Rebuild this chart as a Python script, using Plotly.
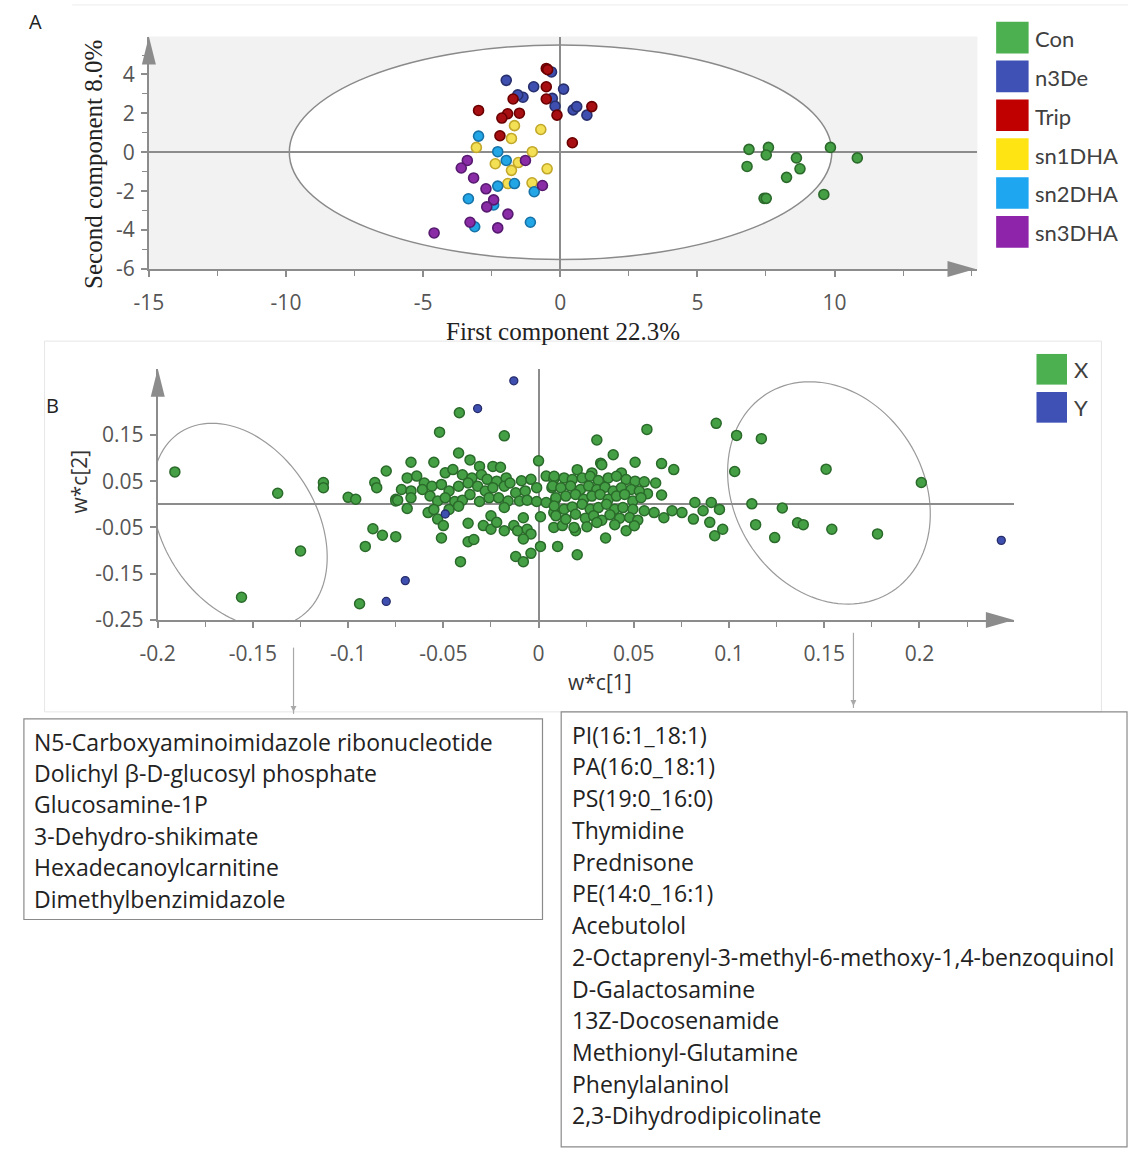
import numpy as np
import plotly.graph_objects as go

W, H = 1128, 1151

# ---------------- Panel A data (PLS-DA scores) ----------------
groups = ["Con", "n3De", "Trip", "sn1DHA", "sn2DHA", "sn3DHA"]
legend_colors = ["#4caf50", "#3f51b5", "#c00000", "#ffe414", "#1ea6f0", "#8e24aa"]
fill_colors = ["#45a045", "#3f4fb0", "#a80f12", "#f4e055", "#22a6e6", "#8a2ca6"]
edge_colors = ["#2c6a2c", "#28306e", "#6a0000", "#c2a82a", "#1773a8", "#571a70"]

con_x = [6.88, 7.59, 7.51, 6.81, 8.61, 8.74, 8.25, 9.85, 10.83, 9.61, 7.43, 7.51]
con_y = [0.15, 0.25, -0.14, -0.73, -0.29, -0.85, -1.29, 0.25, -0.29, -2.17, -2.37, -2.37]
n3de_x = [-1.97, -0.97, 0.12, -1.36, -0.32, -0.29, -0.19, 0.47, 0.60, 0.97, -1.55]
n3de_y = [3.70, 3.37, 3.25, 2.83, 4.13, 2.77, 2.37, 2.18, 2.35, 1.91, 2.95]
trip_x = [-0.51, -0.46, -0.51, -0.51, -0.12, 1.15, 0.44, -2.98, -1.72, -1.92, -2.13, -1.49, -2.20]
trip_y = [4.31, 4.25, 3.37, 2.74, 1.91, 2.35, 0.49, 2.15, 2.74, 1.98, 1.76, 2.01, 0.85]
sn1_x = [-1.67, -0.71, -1.78, -3.06, -1.02, -2.37, -1.78, -1.53, -0.48, -1.91, -1.03]
sn1_y = [1.37, 1.17, 0.71, 0.25, 0.03, -0.59, -0.93, -0.53, -0.85, -1.61, -1.57]
sn2_x = [-2.98, -2.28, -1.97, -2.28, -1.67, -0.95, -3.35, -3.12, -1.09, -2.43]
sn2_y = [0.83, 0.03, -0.42, -1.74, -1.61, -2.03, -2.39, -3.83, -3.60, -2.71]
sn3_x = [-3.39, -3.61, -3.16, -1.27, -2.71, -0.65, -2.43, -2.68, -1.91, -3.29, -2.28, -4.60]
sn3_y = [-0.42, -0.81, -1.32, -0.42, -1.88, -1.71, -2.45, -2.81, -3.18, -3.60, -3.89, -4.15]
groups_x = [con_x, n3de_x, trip_x, sn1_x, sn2_x, sn3_x]
groups_y = [con_y, n3de_y, trip_y, sn1_y, sn2_y, sn3_y]

a_xticks = [-15, -10, -5, 0, 5, 10]
a_xlabels = ["-15", "-10", "-5", "0", "5", "10"]
a_yticks = [4, 2, 0, -2, -4, -6]
a_ylabels = ["4", "2", "0", "-2", "-4", "-6"]
a_xtitle = "First component 22.3%"
a_ytitle = "Second component 8.0%"

# ---------------- Panel B data (loadings) ----------------
x_load_x = [
    # left outliers
    -0.191, -0.137, -0.125, -0.156, -0.113, -0.113, -0.100, -0.096, -0.094, -0.091,
    -0.087, -0.082, -0.086, -0.085, -0.080, -0.075,
    # sparse around the cluster (left)
    -0.0416, -0.052, -0.018, -0.042, -0.067, -0.055, 0.000, -0.075, -0.069, -0.075,
    -0.051, -0.037, -0.037, -0.034, -0.041, -0.012, -0.008, -0.004, 0.001,
    # cluster left half
    -0.036, -0.031, -0.024, -0.020,
    -0.069, -0.064, -0.060, -0.049, -0.045, -0.040, -0.035, -0.030, -0.027, -0.022,
    -0.017, -0.009, -0.004, 0.004, 0.008,
    -0.072, -0.067, -0.061, -0.056, -0.051, -0.047, -0.042, -0.037, -0.032, -0.028,
    -0.024, -0.018, -0.015, -0.012, -0.007, -0.001, 0.007,
    -0.074, -0.067, -0.057, -0.053, -0.049, -0.044, -0.040, -0.036, -0.031, -0.026,
    -0.021, -0.016, -0.010, -0.006, -0.001, 0.004, 0.009,
    -0.058, -0.055, -0.047, -0.042, -0.025, -0.018, -0.008, 0.001, 0.008,
    -0.053, -0.050, -0.029, -0.025, -0.022, -0.018, -0.013, -0.011, -0.006, -0.004,
    -0.008, 0.008,
    # sparse around the cluster (right)
    0.0569, 0.0933, 0.0306, 0.0392, 0.0507, 0.0646, 0.0710, 0.0326, 0.0615, 0.0646,
    0.0572, 0.0821, 0.0907, 0.0950, 0.0967, 0.0925, 0.0899, 0.0864, 0.0813, 0.0753,
    0.0701, 0.0658, 0.0607, 0.0555, 0.0460, 0.0352, 0.0203, 0.0100, 0.0194, 0.0125,
    # cluster right half
    0.0203, 0.0280, 0.0435, 0.0332,
    0.0082, 0.0134, 0.0177, 0.0229, 0.0271, 0.0314, 0.0366, 0.0409, 0.0460, 0.0507, 0.0555,
    0.0074, 0.0117, 0.0168, 0.0220, 0.0263, 0.0306, 0.0349, 0.0392, 0.0435, 0.0486, 0.0529,
    0.0091, 0.0143, 0.0194, 0.0237, 0.0280, 0.0323, 0.0366, 0.0409, 0.0452, 0.0495, 0.0538,
    0.0082, 0.0134, 0.0177, 0.0229, 0.0271, 0.0314, 0.0357, 0.0400, 0.0443, 0.0495,
    0.0091, 0.0143, 0.0194, 0.0246, 0.0289, 0.0332, 0.0375, 0.0426, 0.0478, 0.0521,
    0.0186, 0.0254, 0.0306, 0.0400, 0.0503,
    # right outliers
    0.103, 0.104, 0.117, 0.151, 0.201, 0.112, 0.128, 0.114, 0.136, 0.139, 0.124, 0.154, 0.178,
]
x_load_y = [
    0.070, 0.024, -0.101, -0.201, 0.047, 0.036, 0.015, 0.011, -0.215, -0.091,
    -0.053, -0.067, 0.047, 0.036, 0.072, 0.011,
    0.198, 0.156, 0.148, 0.111, 0.091, 0.091, 0.094, 0.007, -0.009, -0.070,
    -0.073, -0.041, -0.081, -0.076, -0.124, -0.113, -0.124, -0.106, -0.091,
    0.096, 0.082, 0.082, 0.080,
    0.057, 0.061, 0.046, 0.068, 0.075, 0.064, 0.057, 0.064, 0.054, 0.050,
    0.057, 0.051, 0.054, 0.061, 0.054,
    0.032, 0.029, 0.032, 0.039, 0.043, 0.029, 0.039, 0.046, 0.039, 0.029,
    0.036, 0.039, 0.046, 0.025, 0.029, 0.036, 0.036,
    0.009, 0.014, 0.018, 0.007, 0.014, 0.006, 0.009, 0.021, 0.006, 0.014,
    0.014, 0.007, 0.007, 0.009, 0.006, 0.004, 0.011,
    -0.018, -0.011, -0.011, -0.004, -0.025, -0.007, -0.029, -0.027, -0.018,
    -0.032, -0.046, -0.046, -0.054, -0.039, -0.057, -0.046, -0.057, -0.054, -0.064,
    -0.075, -0.050,
    0.162, 0.175, 0.139, 0.107, 0.091, 0.088, 0.075, 0.089, 0.046, 0.020,
    0.023, 0.004, 0.004, -0.011, -0.054, -0.068, -0.039, -0.014, -0.032, -0.018,
    -0.014, -0.029, -0.018, -0.014, -0.057, -0.073, -0.109, -0.091, -0.057, -0.046,
    0.0749, 0.0678, 0.0678, 0.0857,
    0.0607, 0.0571, 0.0535, 0.0571, 0.0607, 0.0514, 0.0571, 0.0607, 0.0535, 0.0500, 0.0485,
    0.0393, 0.0357, 0.0393, 0.0321, 0.0393, 0.0321, 0.0371, 0.0286, 0.0357, 0.0321, 0.0286,
    0.0143, 0.0178, 0.0214, 0.0107, 0.0178, 0.0214, 0.0107, 0.0178, 0.0214, 0.0071, 0.0143,
    -0.0036, -0.0107, -0.0057, 0.0000, -0.0107, -0.0071, 0.0000, -0.0107, -0.0071, -0.0107,
    -0.0250, -0.0321, -0.0214, -0.0300, -0.0250, -0.0343, -0.0228, -0.0300, -0.0285, -0.0343,
    -0.0500, -0.0485, -0.0393, -0.0443, -0.0464,
    0.071, 0.149, 0.142, 0.076, 0.047, 0.001, -0.008, -0.044, -0.040, -0.044, -0.072, -0.054, -0.064,
]
y_load_x = [-0.013, -0.032, -0.049, -0.070, -0.080, 0.243]
y_load_y = [0.267, 0.207, -0.021, -0.165, -0.210, -0.078]

b_xticks = [-0.2, -0.15, -0.1, -0.05, 0, 0.05, 0.1, 0.15, 0.2]
b_xlabels = ["-0.2", "-0.15", "-0.1", "-0.05", "0", "0.05", "0.1", "0.15", "0.2"]
b_yticks = [0.15, 0.05, -0.05, -0.15, -0.25]
b_ylabels = ["0.15", "0.05", "-0.05", "-0.15", "-0.25"]
b_legend = ["X", "Y"]
b_legend_colors = ["#4caf50", "#3f51b5"]

left_box_names = [
    "N5-Carboxyaminoimidazole ribonucleotide",
    "Dolichyl β-D-glucosyl phosphate",
    "Glucosamine-1P",
    "3-Dehydro-shikimate",
    "Hexadecanoylcarnitine",
    "Dimethylbenzimidazole",
]
right_box_names = [
    "PI(16:1_18:1)",
    "PA(16:0_18:1)",
    "PS(19:0_16:0)",
    "Thymidine",
    "Prednisone",
    "PE(14:0_16:1)",
    "Acebutolol",
    "2-Octaprenyl-3-methyl-6-methoxy-1,4-benzoquinol",
    "D-Galactosamine",
    "13Z-Docosenamide",
    "Methionyl-Glutamine",
    "Phenylalaninol",
    "2,3-Dihydrodipicolinate",
]

# ---------------- layout geometry (pixels) ----------------
def px(x):
    return x / W

def py(y):
    return 1 - y / H

A_X = (133, 975)
A_Y = (37, 272)
A_XR = [-15, 15.21]
A_YR = [-6, 5.95]
B_X = (142, 1012)
B_Y = (373, 627)
B_XR = [-0.2, 0.2496]
B_YR = [-0.25, 0.293]

AX_COL = "#8c8c8c"
TICK_COL = "#555555"
TICK_FONT = dict(family="Open Sans", size=21, color=TICK_COL)

fig = go.Figure()

for g, xs, ys, fc, ec in zip(groups, groups_x, groups_y, fill_colors, edge_colors):
    fig.add_trace(go.Scatter(
        x=xs, y=ys, mode="markers", name=g, xaxis="x", yaxis="y",
        marker=dict(size=10, color=fc, line=dict(color=ec, width=1.6)),
        showlegend=False,
    ))

fig.add_trace(go.Scatter(
    x=x_load_x, y=x_load_y, mode="markers", name="X", xaxis="x2", yaxis="y2",
    marker=dict(size=10, color="#45a045", line=dict(color="#2a6a2a", width=1.5)),
    showlegend=False,
))
fig.add_trace(go.Scatter(
    x=y_load_x, y=y_load_y, mode="markers", name="Y", xaxis="x2", yaxis="y2",
    marker=dict(size=8, color="#3f4fb0", line=dict(color="#262d6a", width=1.3)),
    showlegend=False,
))

axis_common = dict(showgrid=False, showline=True, linecolor=AX_COL, linewidth=2,
                   zeroline=True, zerolinecolor=AX_COL, zerolinewidth=1.5,
                   ticks="outside", tickcolor=AX_COL, tickwidth=1.5, ticklen=6,
                   mirror=False, fixedrange=True, tickfont=TICK_FONT)

fig.update_layout(
    width=W, height=H, autosize=False,
    margin=dict(l=0, r=0, t=0, b=0),
    paper_bgcolor="white", plot_bgcolor="rgba(0,0,0,0)",
    xaxis=dict(domain=[px(A_X[0]), px(A_X[1])], range=A_XR, anchor="y",
               tickvals=a_xticks, ticktext=a_xlabels, ticklabelstandoff=8,
               minor=dict(dtick=2.5, tick0=0, ticks="outside", ticklen=5, tickcolor=AX_COL, tickwidth=1.2),
               **axis_common),
    yaxis=dict(domain=[py(A_Y[1]), py(A_Y[0])], range=A_YR, anchor="x",
               tickvals=a_yticks, ticktext=a_ylabels, ticklabelstandoff=2,
               minor=dict(dtick=1, tick0=0, ticks="outside", ticklen=5, tickcolor=AX_COL, tickwidth=1.2),
               **axis_common),
    xaxis2=dict(domain=[px(B_X[0]), px(B_X[1])], range=B_XR, anchor="y2",
                tickvals=b_xticks, ticktext=b_xlabels, ticklabelstandoff=8,
                minor=dict(dtick=0.025, tick0=0, ticks="outside", ticklen=5, tickcolor=AX_COL, tickwidth=1.2),
                **axis_common),
    yaxis2=dict(domain=[py(B_Y[1]), py(B_Y[0])], range=B_YR, anchor="x2",
                tickvals=b_yticks, ticktext=b_ylabels, ticklabelstandoff=2,
                **axis_common),
)

shapes = []
# gray background of panel A
shapes.append(dict(type="rect", xref="x domain", yref="y domain", x0=0, x1=1, y0=0, y1=1,
                   fillcolor="#f2f2f2", line=dict(width=0), layer="below"))
# Hotelling ellipse A
shapes.append(dict(type="circle", xref="x", yref="y", x0=-9.88, x1=9.9, y0=-5.52, y1=5.52,
                   fillcolor="white", line=dict(color="#8a8a8a", width=1.5), layer="below"))

# rotated ellipses B (centre in data units, semi-axes in pixels, angle in screen degrees)
sx = (B_X[1] - B_X[0]) / (B_XR[1] - B_XR[0])
sy = (B_Y[1] - B_Y[0]) / (B_YR[1] - B_YR[0])
def ellipse_path(cx, cy, a, b, ang):
    t = np.linspace(0, 2 * np.pi, 121)
    phi = np.radians(ang)
    dx = a * np.cos(t) * np.cos(phi) - b * np.sin(t) * np.sin(phi)
    dy = a * np.cos(t) * np.sin(phi) + b * np.sin(t) * np.cos(phi)
    xs = cx + dx / sx
    ys = cy - dy / sy
    return "M " + " L ".join(f"{x:.5f},{y:.5f}" for x, y in zip(xs, ys)) + " Z"

for (cx, cy, a, b, ang) in [(-0.157, -0.045, 111.6, 78.0, 57.5), (0.1525, 0.0246, 118.5, 96.0, 57.5)]:
    shapes.append(dict(type="path", xref="x2", yref="y2", path=ellipse_path(cx, cy, a, b, ang),
                       line=dict(color="#9a9a9a", width=1.2), layer="below"))

# axis arrows (pixel-sized triangles anchored on the paper, so they are not clipped)
def up_arrow(xp, yp):
    return dict(type="path", xref="paper", yref="paper", xsizemode="pixel", ysizemode="pixel",
                xanchor=px(xp), yanchor=py(yp), path="M -7,-28 L 7,-28 L 0,0 Z",
                fillcolor=AX_COL, line=dict(width=0))

def right_arrow(xp, yp):
    return dict(type="path", xref="paper", yref="paper", xsizemode="pixel", ysizemode="pixel",
                xanchor=px(xp), yanchor=py(yp), path="M -28,-8 L -28,8 L 0,0 Z",
                fillcolor=AX_COL, line=dict(width=0))

shapes.append(up_arrow(A_X[0], A_Y[0]))
shapes.append(right_arrow(973, A_Y[1]))
shapes.append(up_arrow(B_X[0], B_Y[0]))
shapes.append(right_arrow(B_X[1], B_Y[1]))

# faint panel frames
shapes.append(dict(type="line", xref="paper", yref="paper", x0=px(55), x1=px(1128), y0=py(5), y1=py(5),
                   line=dict(color="#ececec", width=1)))
shapes.append(dict(type="rect", xref="paper", yref="paper", x0=px(27), x1=px(1101), y0=py(720), y1=py(345),
                   line=dict(color="#e6e6e6", width=1)))

# legend squares A
for i, c in enumerate(legend_colors):
    top = 22 + 39.3 * i
    shapes.append(dict(type="rect", xref="paper", yref="paper", x0=px(994), x1=px(1027),
                       y0=py(top + 32), y1=py(top), fillcolor=c, line=dict(width=0)))
# legend squares B
for i, c in enumerate(b_legend_colors):
    top = 358 + 38.5 * i
    shapes.append(dict(type="rect", xref="paper", yref="paper", x0=px(1035), x1=px(1066),
                       y0=py(top + 31), y1=py(top), fillcolor=c, line=dict(width=0)))

# connector lines with small arrowheads
for xc, ytop, ybot in [(280, 655, 722), (849, 640, 716)]:
    shapes.append(dict(type="line", xref="paper", yref="paper", x0=px(xc), x1=px(xc),
                       y0=py(ytop), y1=py(ybot), line=dict(color="#a8a8a8", width=1.2)))
    shapes.append(dict(type="path", xref="paper", yref="paper",
                       path=f"M {px(xc-3)},{py(ybot-8)} L {px(xc+3)},{py(ybot-8)} L {px(xc)},{py(ybot-2)} Z",
                       fillcolor="#a8a8a8", line=dict(width=0)))

# text boxes
shapes.append(dict(type="rect", xref="paper", yref="paper", x0=px(6), x1=px(533), y0=py(930), y1=py(727),
                   line=dict(color="#8a8a8a", width=1.2)))
shapes.append(dict(type="rect", xref="paper", yref="paper", x0=px(552), x1=px(1127), y0=py(1160), y1=py(720),
                   line=dict(color="#8a8a8a", width=1.2)))

fig.update_layout(shapes=shapes)

ann = []
TXT = "#333333"
ann.append(dict(text="A", x=px(18), y=py(22), xref="paper", yref="paper", showarrow=False,
                xanchor="center", yanchor="middle", font=dict(family="Open Sans", size=20, color="#222")))
ann.append(dict(text="B", x=px(35), y=py(410), xref="paper", yref="paper", showarrow=False,
                xanchor="center", yanchor="middle", font=dict(family="Open Sans", size=20, color="#222")))
ann.append(dict(text=a_xtitle, x=px(554), y=py(335), xref="paper", yref="paper", showarrow=False,
                xanchor="center", yanchor="middle", font=dict(family="Liberation Serif", size=25, color="#222")))
ann.append(dict(text=a_ytitle, x=px(76), y=py(166), xref="paper", yref="paper", showarrow=False, textangle=-90,
                xanchor="center", yanchor="middle", font=dict(family="Liberation Serif", size=25, color="#222")))
ann.append(dict(text="w*c[1]", x=px(591), y=py(690), xref="paper", yref="paper", showarrow=False,
                xanchor="center", yanchor="middle", font=dict(family="Open Sans", size=21, color=TXT)))
ann.append(dict(text="w*c[2]", x=px(62), y=py(487), xref="paper", yref="paper", showarrow=False, textangle=-90,
                xanchor="center", yanchor="middle", font=dict(family="Open Sans", size=21, color=TXT)))

for i, g in enumerate(groups):
    ann.append(dict(text=g, x=px(1031), y=py(22 + 39.3 * i + 17), xref="paper", yref="paper", showarrow=False,
                    xanchor="left", yanchor="middle", font=dict(family="Lato", size=22, color="#404040")))
for i, g in enumerate(b_legend):
    ann.append(dict(text=g, x=px(1071), y=py(358 + 38.5 * i + 16), xref="paper", yref="paper", showarrow=False,
                    xanchor="left", yanchor="middle", font=dict(family="Lato", size=22, color="#404040")))

for i, s in enumerate(left_box_names):
    ann.append(dict(text=s, x=px(14), y=py(750 + 31.8 * i), xref="paper", yref="paper", showarrow=False,
                    xanchor="left", yanchor="middle", font=dict(family="Open Sans", size=23, color="#222")))
for i, s in enumerate(right_box_names):
    ann.append(dict(text=s, x=px(561), y=py(743 + 32.1 * i), xref="paper", yref="paper", showarrow=False,
                    xanchor="left", yanchor="middle", font=dict(family="Open Sans", size=23, color="#222")))

fig.update_layout(annotations=ann)

fig.write_html("out.html")
